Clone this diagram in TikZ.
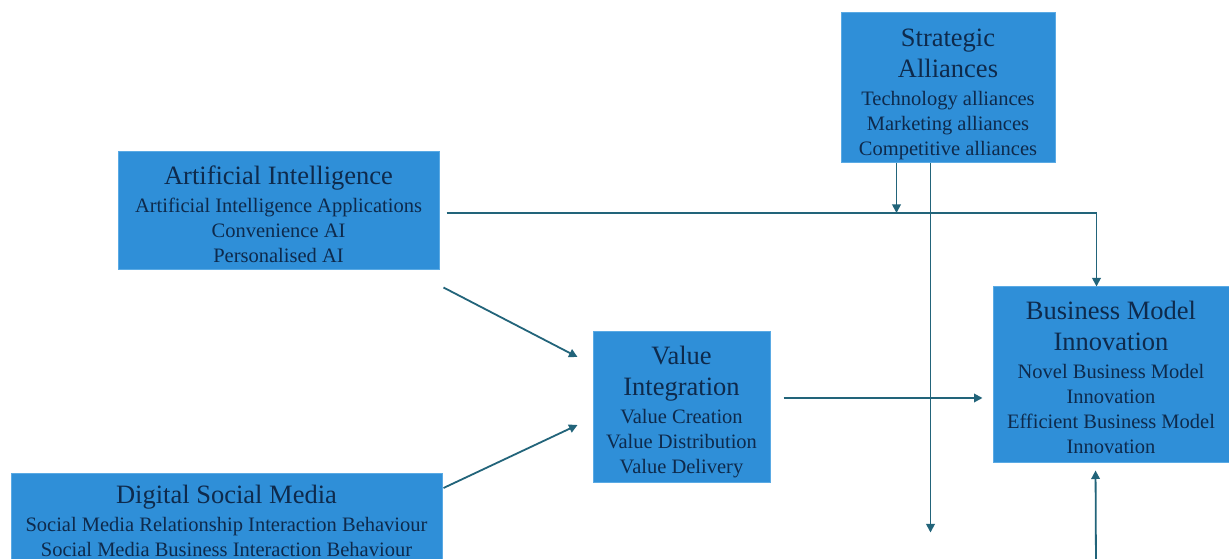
\documentclass[tikz,border=0pt]{standalone}
\usepackage{fontspec}
\setmainfont{Liberation Serif}
\usetikzlibrary{arrows.meta,calc}
\definecolor{boxfill}{HTML}{2F8FD8}
\definecolor{boxedge}{HTML}{5AAAE4}
\definecolor{txt}{HTML}{0E2A4C}
\definecolor{conn}{HTML}{22647A}
\newcommand{\ttl}{\fontsize{26.5}{25}\selectfont}
\newcommand{\sbt}{\fontsize{20.5}{25}\selectfont}
\newcommand{\lift}[1]{\rule{0pt}{#1}}
\begin{document}
\begin{tikzpicture}[x=1pt,y=1pt,
  box/.style={draw=boxedge, fill=boxfill, line width=1pt, text=txt, align=center, inner sep=0pt, font=\sbt},
  arr/.style={draw=conn, line width=1.8pt, -{Triangle[length=8.5pt,width=8.5pt]}}]
\useasboundingbox (0,0) rectangle (1229,559);
\clip (0,0) rectangle (1229,559);
\fill[white] (0,0) rectangle (1229,559);

\node[box, minimum width=321pt, minimum height=118pt] (AI) at (278.5,348)
  {\ttl\lift{26pt}Artificial Intelligence\\[3pt] \sbt Artificial Intelligence Applications\\ \sbt Convenience AI\\ \sbt Personalised AI};
\node[box, minimum width=214pt, minimum height=150pt] (SA) at (948,471)
  {\ttl\lift{30pt}Strategic\\[6pt] \ttl Alliances\\[3pt] \sbt Technology alliances\\ \sbt Marketing alliances\\ \sbt Competitive alliances};
\node[box, minimum width=177pt, minimum height=151pt] (VI) at (681.5,151.5)
  {\ttl\lift{27pt}Value\\[6pt] \ttl Integration\\[3pt] \sbt Value Creation\\ \sbt Value Distribution\\ \sbt Value Delivery};
\node[box, minimum width=236pt, minimum height=176pt] (BMI) at (1111,184)
  {\ttl\lift{24pt}Business Model\\[6pt] \ttl Innovation\\[3pt] \sbt Novel Business Model\\ \sbt Innovation\\ \sbt Efficient Business Model\\ \sbt Innovation};
\node[box, minimum width=431pt, inner ysep=12pt, anchor=north] (DSM) at (226.5,86)
  {\ttl Digital Social Media\\[3pt] \sbt Social Media Relationship Interaction Behaviour\\ \sbt Social Media Business Interaction Behaviour};

\coordinate (aiout) at ($(AI.east)+(7,-2)$);
\coordinate (bmitop) at ($(BMI.north west)+(104,0)$);
\draw[arr] (aiout) -| (bmitop);
\coordinate (sa1) at ($(SA.south west)+(56,0)$);
\draw[arr] (sa1) -- (sa1 |- aiout);
\coordinate (sa2) at ($(SA.south west)+(90,0)$);
\coordinate (sa2end) at ($(sa2)+(0,-369)$);
\draw[arr] (sa2) -- (sa2end);
\coordinate (ai2) at ($(AI.south east)+(4,-17)$);
\coordinate (vi1) at ($(VI.west)+(-15,50.5)$);
\draw[arr] (ai2) -- (vi1);
\coordinate (dsm2) at ($(DSM.north east)+(1,-15)$);
\coordinate (vi2) at ($(VI.west)+(-15,-17.5)$);
\draw[arr] (dsm2) -- (vi2);
\coordinate (viout) at ($(VI.east)+(13,9.5)$);
\draw[arr, shorten >=10pt] (viout) -- (viout -| BMI.west);
\coordinate (bmibot) at ($(BMI.south west)+(103,0)$);
\coordinate (bot) at (1096,-10);
\draw[arr, shorten >=7pt] (bot) -- (bmibot);
\end{tikzpicture}
\end{document}
